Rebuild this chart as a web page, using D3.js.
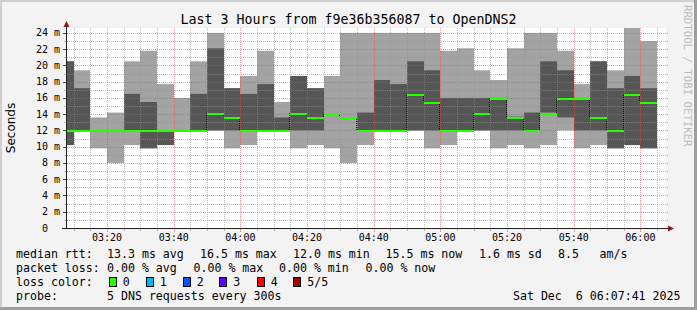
<!DOCTYPE html>
<html>
<head>
<meta charset="utf-8">
<script src="https://cdn.jsdelivr.net/npm/d3@7"></script>
<style>
  body { margin: 0; background: #f3f3f3; }
  svg { display: block; }
  text { font-family: "DejaVu Sans Mono", monospace; white-space: pre; }
</style>
</head>
<body>
<div id="chart"></div>
<script>
const barStarts = ["03:05", "03:10", "03:15", "03:20", "03:25", "03:30", "03:35", "03:40", "03:45",
  "03:50", "03:55", "04:00", "04:05", "04:10", "04:15", "04:20", "04:25", "04:30", "04:35", "04:40",
  "04:45", "04:50", "04:55", "05:00", "05:05", "05:10", "05:15", "05:20", "05:25", "05:30", "05:35",
  "05:40", "05:45", "05:50", "05:55", "06:00"];

// sorted pings per 5 min step (ms)
const pingMin = [10.2, 12.0, 9.8, 8.0, 10.2, 9.8, 10.2, 12.0, 12.0, 12.0, 9.8, 10.2, 12.0, 12.0, 9.8, 10.2,
  9.8, 8.0, 10.2, 12.0, 12.0, 12.0, 9.8, 10.2, 12.0, 12.0, 9.8, 10.2, 9.8, 10.2, 12.0, 9.8, 10.2, 9.8, 10.2, 9.8];
const pingLow = [10.2, 12.0, 12.0, 12.0, 12.0, 9.8, 10.2, 12.0, 12.0, 12.0, 12.0, 12.0, 12.0, 12.0, 12.0, 12.0,
  14.2, 13.7, 12.0, 12.0, 12.0, 12.0, 12.0, 12.0, 12.0, 12.0, 12.0, 12.0, 12.0, 14.2, 13.6, 12.0, 12.0, 9.8, 10.2, 9.8];
const pingMedian = [12.0, 12.0, 12.0, 12.0, 12.0, 12.0, 12.0, 12.0, 12.0, 14.2, 13.7, 12.0, 12.0, 12.0, 14.2, 13.7,
  14.2, 13.7, 12.0, 12.0, 12.0, 16.5, 15.5, 12.0, 12.0, 14.2, 16.0, 13.7, 12.0, 14.2, 16.0, 16.0, 13.7, 12.0, 16.5, 15.5];
const pingHigh = [20.5, 17.2, 12.0, 12.0, 16.5, 15.5, 12.0, 12.0, 16.5, 22.1, 17.2, 16.5, 17.7, 13.6, 18.7, 17.2,
  14.2, 13.7, 14.2, 18.2, 17.7, 20.5, 19.4, 16.0, 16.0, 16.0, 16.0, 13.7, 14.2, 20.5, 19.4, 16.0, 20.5, 17.2, 18.7, 17.2];
const pingMax = [20.5, 19.4, 13.6, 14.2, 20.5, 21.8, 17.7, 16.0, 20.5, 24.0, 17.2, 18.7, 21.8, 15.5, 18.7, 17.2,
  18.7, 24.0, 24.0, 24.0, 24.0, 24.0, 24.0, 21.8, 22.1, 19.4, 18.2, 22.1, 24.0, 24.0, 21.8, 17.7, 20.5, 19.4, 24.6, 23.0];

const yTicks = [0, 2, 4, 6, 8, 10, 12, 14, 16, 18, 20, 22, 24];
const xTickLabels = ["03:20", "03:40", "04:00", "04:20", "04:40", "05:00", "05:20", "05:40", "06:00"];
const rangeStart = "03:07:41", rangeEnd = "06:07:41", yMax = 24.6;

const legendRtt = [["median rtt:", 16], ["13.3 ms avg", 107], ["16.5 ms max", 200], ["12.0 ms min", 293],
  ["15.5 ms now", 385.5], ["1.6 ms sd", 479], ["8.5", 558], ["am/s", 599.5]];
const legendLoss = [["packet loss:", 16], ["0.00 % avg", 107], ["0.00 % max", 193.5], ["0.00 % min", 279], ["0.00 % now", 365.5]];
const lossLabels = ["0", "1", "2", "3", "4", "5/5"];
const lossColors = ["#26ff00", "#00b8ff", "#0059ff", "#5e00ff", "#ff0000", "#a10000"];
const lossBoxX = [108.7, 145.7, 182.7, 219.3, 256.7, 293.3];

const W = 697, H = 310;
const parseHM = d3.timeParse("%H:%M"), parseHMS = d3.timeParse("%H:%M:%S");
const gridColor = "rgba(143,143,143,0.6)", mgridColor = "rgba(222,79,79,0.55)";

const svg = d3.select("#chart").append("svg").attr("width", W).attr("height", H);

svg.append("rect").attr("width", W).attr("height", H).attr("fill", "#f3f3f3");
// shade border
svg.append("path").attr("d", `M0,0H${W}V2H2V${H}H0Z`).attr("fill", "#cfcfcf");
svg.append("path").attr("d", `M${W},${H}H0V${H - 3}H${W - 3}V0H${W}Z`).attr("fill", "#9e9e9e");

const x = d3.scaleTime().domain([parseHMS(rangeStart), parseHMS(rangeEnd)]).range([66, 666]);
const y = d3.scaleLinear().domain([0, yMax]).range([228, 28]);

svg.append("rect").attr("x", 66).attr("y", 28).attr("width", 600).attr("height", 200).attr("fill", "#fff");
svg.append("clipPath").attr("id", "plot")
  .append("rect").attr("x", 66).attr("y", 28).attr("width", 600).attr("height", 200);

const bars = barStarts.map((s, i) => {
  const t0 = parseHM(s);
  return {
    x0: Math.round(x(t0)), x1: Math.round(x(d3.timeMinute.offset(t0, 5))),
    min: pingMin[i], low: pingLow[i], med: pingMedian[i], high: pingHigh[i], max: pingMax[i]
  };
});

const smoke = svg.append("g").attr("clip-path", "url(#plot)");
smoke.selectAll(".outer").data(bars).enter().append("rect")
  .attr("x", d => d.x0).attr("width", d => d.x1 - d.x0)
  .attr("y", d => y(d.max)).attr("height", d => y(d.min) - y(d.max))
  .attr("fill", "#a3a3a3");
smoke.selectAll(".inner").data(bars).enter().append("rect")
  .attr("x", d => d.x0).attr("width", d => d.x1 - d.x0)
  .attr("y", d => y(d.high)).attr("height", d => y(d.low) - y(d.high))
  .attr("fill", "#565656");

// grid
const grid = svg.append("g").attr("shape-rendering", "crispEdges");
d3.range(1, 25).forEach(v => {
  const py = Math.round(y(v)) + 0.5;
  grid.append("line")
    .attr("x1", 67).attr("x2", 668).attr("y1", py).attr("y2", py)
    .attr("stroke", v % 2 ? gridColor : mgridColor)
    .attr("stroke-dasharray", "1,1");
  grid.append("line")
    .attr("x1", v % 2 ? 64 : 63).attr("x2", 66).attr("y1", py).attr("y2", py)
    .attr("stroke", v % 2 ? gridColor : "#444");
});
x.ticks(d3.timeMinute.every(5)).forEach(t => {
  const major = t.getMinutes() % 20 === 0;
  const px = Math.round(x(t)) + 0.5;
  grid.append("line")
    .attr("x1", px).attr("x2", px).attr("y1", 28).attr("y2", 228)
    .attr("stroke", major ? mgridColor : gridColor)
    .attr("stroke-dasharray", "1,1");
  grid.append("line")
    .attr("x1", px).attr("x2", px).attr("y1", 229).attr("y2", major ? 232 : 231)
    .attr("stroke", major ? mgridColor : gridColor);
});

// median line
const med = svg.append("g").attr("clip-path", "url(#plot)").attr("shape-rendering", "crispEdges");
bars.slice(0, -1).forEach((d, i) => {
  const n = bars[i + 1];
  if (n.med !== d.med) {
    med.append("line")
      .attr("x1", d.x1 - 0.5).attr("x2", d.x1 - 0.5)
      .attr("y1", Math.round(y(d.med))).attr("y2", Math.round(y(n.med)))
      .attr("stroke", "#111").attr("stroke-dasharray", "1,1");
  }
});
med.selectAll(".median").data(bars).enter().append("line")
  .attr("x1", d => d.x0).attr("x2", d => d.x1)
  .attr("y1", d => Math.round(y(d.med)) + 1).attr("y2", d => Math.round(y(d.med)) + 1)
  .attr("stroke", "#26ff00").attr("stroke-width", 2);

// axes
svg.append("line").attr("x1", 66.5).attr("x2", 66.5).attr("y1", 228).attr("y2", 25)
  .attr("stroke", "#1f1f1f").attr("shape-rendering", "crispEdges");
svg.append("path").attr("d", "M63.5,27L66.5,21L69.5,27Z").attr("fill", "#7f1f1f");
svg.append("line").attr("x1", 62).attr("x2", 670).attr("y1", 228.5).attr("y2", 228.5)
  .attr("stroke", "#1f1f1f").attr("shape-rendering", "crispEdges");
svg.append("path").attr("d", "M668,225.5L674,228.5L668,231.5Z").attr("fill", "#7f1f1f");

svg.append("g").selectAll("text").data(yTicks).enter().append("text")
  .attr("x", 60).attr("y", d => y(d) + 3.5)
  .attr("text-anchor", "end").attr("font-size", "10px").attr("fill", "#000")
  .text(d => d === 0 ? "0  " : d + " m");

svg.append("g").selectAll("text").data(xTickLabels).enter().append("text")
  .attr("x", d => x(parseHM(d))).attr("y", 241)
  .attr("text-anchor", "middle").attr("font-size", "10px").attr("fill", "#000")
  .text(d => d);

// titles
svg.append("text").attr("x", 348.5).attr("y", 24).attr("text-anchor", "middle")
  .attr("font-size", "13.3px").text("Last 3 Hours from f9e36b356087 to OpenDNS2");
svg.append("text").attr("transform", "translate(15,128) rotate(-90)").attr("text-anchor", "middle")
  .style("font-family", "'DejaVu Sans', sans-serif").attr("font-size", "12px").text("Seconds");
svg.append("text").attr("transform", "translate(683.5,5) rotate(90)")
  .attr("font-size", "10.7px").attr("fill", "#bdbdbd").text("RRDTOOL / TOBI OETIKER");

// legend
const legend = svg.append("g").attr("font-size", "11.6px");
legend.selectAll(".rtt").data(legendRtt).enter().append("text")
  .attr("x", d => d[1]).attr("y", 258).text(d => d[0]);
legend.selectAll(".loss").data(legendLoss).enter().append("text")
  .attr("x", d => d[1]).attr("y", 272).text(d => d[0]);
legend.append("text").attr("x", 16).attr("y", 286).text("loss color:");
legend.selectAll(".box").data(lossColors).enter().append("rect")
  .attr("x", (d, i) => Math.round(lossBoxX[i]) + 0.5).attr("y", 277.5)
  .attr("width", 7).attr("height", 9)
  .attr("fill", d => d).attr("stroke", "#000");
legend.selectAll(".lbl").data(lossLabels).enter().append("text")
  .attr("x", (d, i) => lossBoxX[i] + 14).attr("y", 286).text(d => d);
legend.append("text").attr("x", 16).attr("y", 300).text("probe:");
legend.append("text").attr("x", 107).attr("y", 300).text("5 DNS requests every 300s");
legend.append("text").attr("x", 680.5).attr("y", 300).attr("text-anchor", "end").text("Sat Dec  6 06:07:41 2025");
</script>
</body>
</html>
